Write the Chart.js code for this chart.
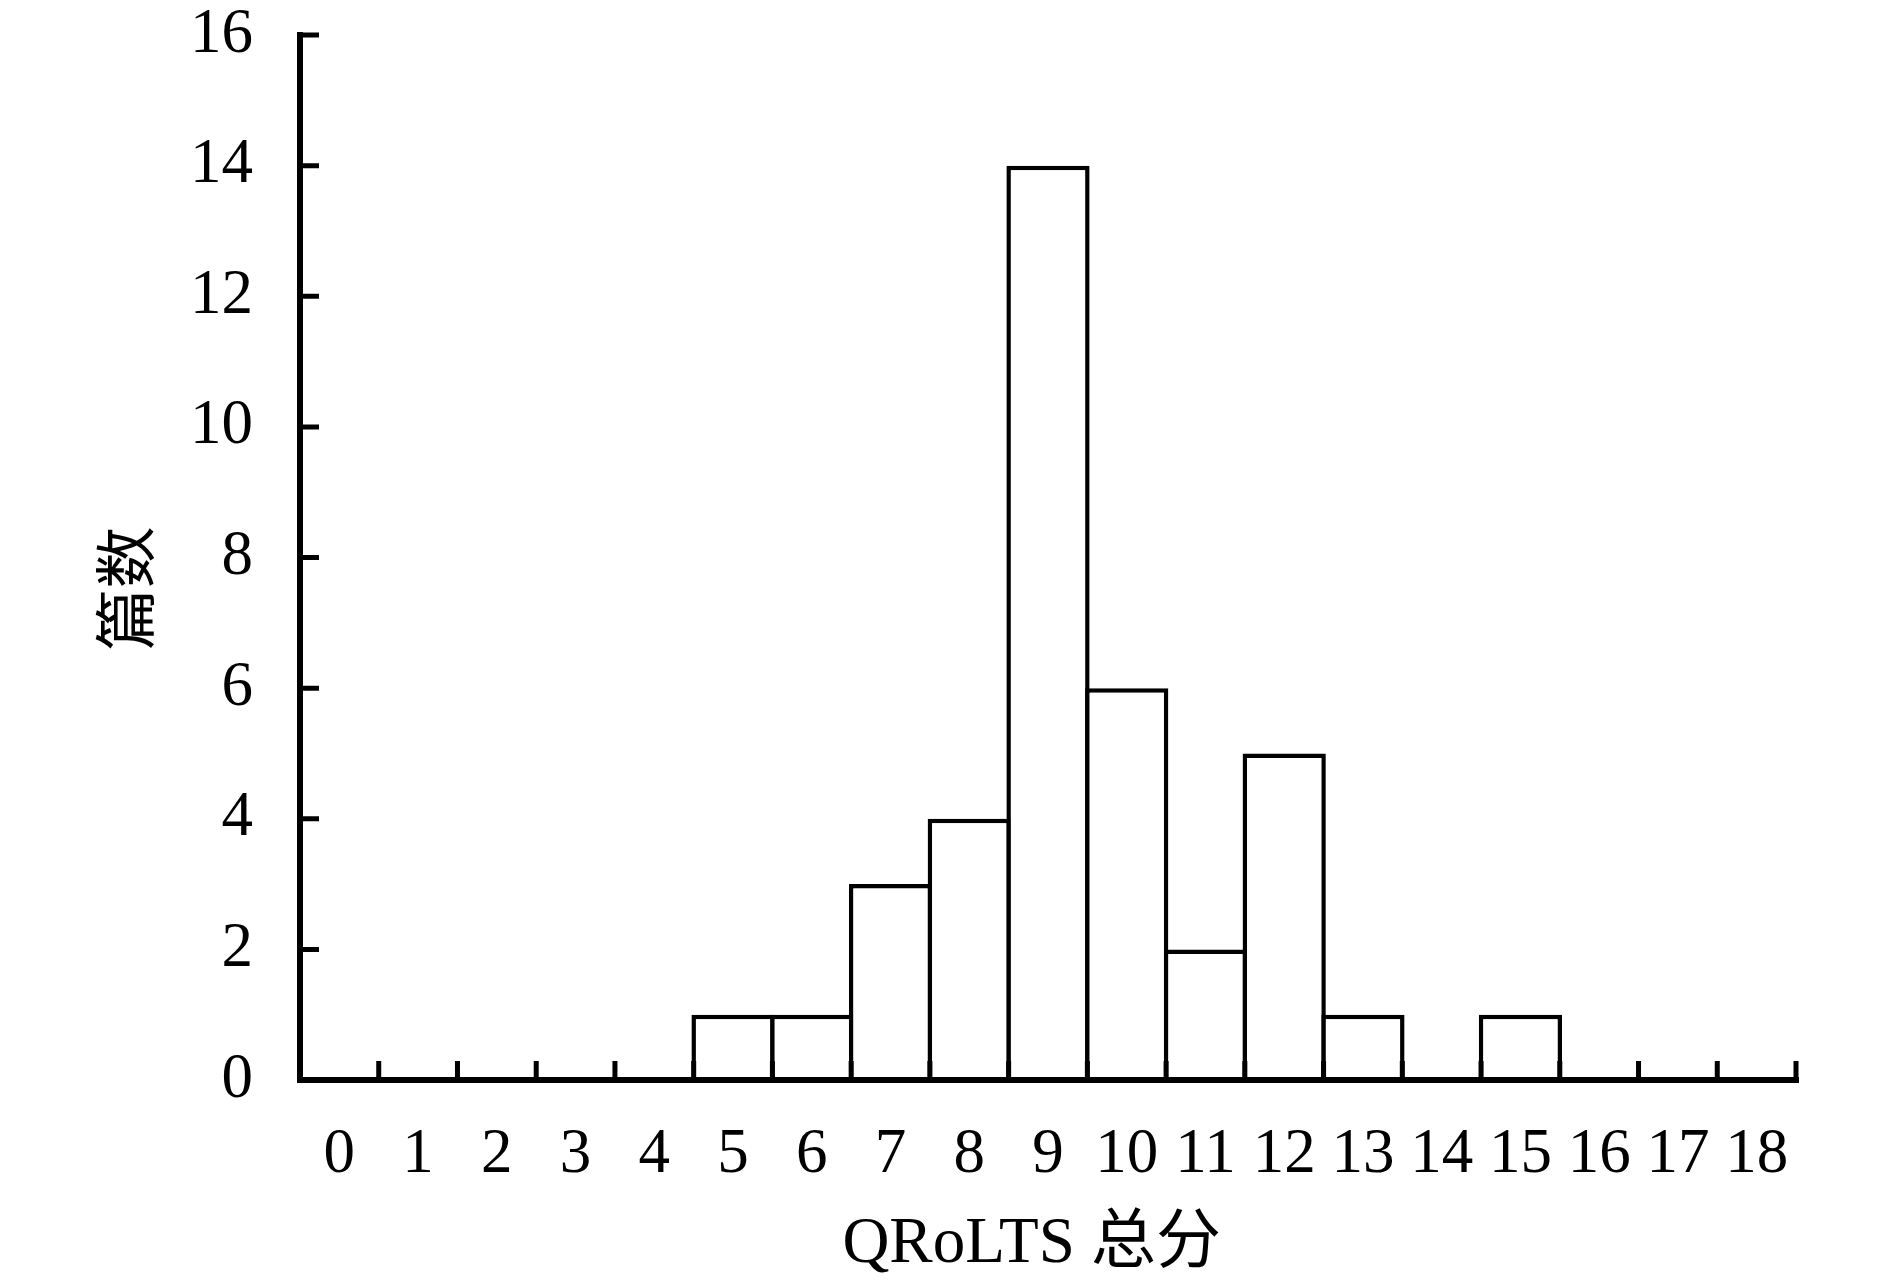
<!DOCTYPE html>
<html>
<head>
<meta charset="utf-8">
<script src="https://cdn.jsdelivr.net/npm/chart.js@4"></script>
<style>
  html, body { margin: 0; padding: 0; background: #ffffff; }
  #wrap { width: 1890px; height: 1287px; position: relative; }
</style>
</head>
<body>
<div id="wrap"><canvas id="c" width="1890" height="1287"></canvas></div>
<script>
// ---- data ----
const categories = ['0','1','2','3','4','5','6','7','8','9','10','11','12','13','14','15','16','17','18'];
const counts     = [0, 0, 0, 0, 0, 1, 1, 3, 4, 14, 6, 2, 5, 1, 0, 1, 0, 0, 0];
const yTickValues = [0, 2, 4, 6, 8, 10, 12, 14, 16];
const xTitle = 'QRoLTS 总分';
const yTitle = '篇数';

const FONT = '"Liberation Serif", "Times New Roman", "Noto Sans CJK SC", serif';
const BORDER = 4.5;

const axesPlugin = {
  id: 'innerAxes',
  afterDatasetsDraw(chart) {
    const { ctx, chartArea: { left, right, bottom }, scales: { x, y } } = chart;
    const yMax = yTickValues[yTickValues.length - 1];
    ctx.save();
    ctx.strokeStyle = '#000';
    ctx.lineCap = 'butt';
    // axis lines
    ctx.lineWidth = 6;
    ctx.beginPath();
    ctx.moveTo(left, y.getPixelForValue(yMax) - 3);
    ctx.lineTo(left, bottom + 3);
    ctx.moveTo(left - 3, bottom);
    ctx.lineTo(right + 3, bottom);
    ctx.stroke();
    // y ticks (inward)
    ctx.lineWidth = 5;
    ctx.beginPath();
    yTickValues.forEach(v => {
      const py = y.getPixelForValue(v);
      ctx.moveTo(left, py);
      ctx.lineTo(left + 19, py);
    });
    // x ticks at category boundaries (inward)
    const half = (x.getPixelForValue(1) - x.getPixelForValue(0)) / 2;
    for (let i = 0; i < categories.length; i++) {
      const px = x.getPixelForValue(i) + half;
      ctx.moveTo(px, bottom);
      ctx.lineTo(px, bottom - 19);
    }
    ctx.stroke();
    ctx.restore();
  }
};

new Chart(document.getElementById('c'), {
  type: 'bar',
  data: {
    labels: categories,
    datasets: [{
      data: counts,
      backgroundColor: '#ffffff',
      borderColor: '#000000',
      borderWidth: BORDER,
      borderSkipped: 'start',
      categoryPercentage: 1.0,
      barPercentage: 1.057
    }]
  },
  options: {
    responsive: false,
    animation: false,
    devicePixelRatio: 1,
    layout: { padding: { top: 35, right: 94, left: 0, bottom: 0 } },
    plugins: { legend: { display: false }, tooltip: { enabled: false } },
    scales: {
      x: {
        type: 'category',
        offset: true,
        grid: { display: false, drawTicks: false },
        border: { display: false },
        ticks: {
          color: '#000',
          padding: 38,
          maxRotation: 0,
          autoSkip: false,
          font: { family: FONT, size: 63 }
        },
        title: {
          display: true,
          text: xTitle + '\u2002',
          color: '#000',
          font: { family: FONT, size: 65 },
          padding: { top: 0, bottom: 3 }
        },
        afterFit(s) {
          s.height = 207;
          s.paddingLeft = 0; s.paddingRight = 0; s.paddingTop = 0; s.paddingBottom = 0;
        }
      },
      y: {
        min: 0,
        max: 16,
        grid: { display: false, drawTicks: false },
        border: { display: false },
        afterBuildTicks(s) { s.ticks = yTickValues.map(v => ({ value: v })); },
        ticks: {
          color: '#000',
          padding: 47,
          font: { family: FONT, size: 63, lineHeight: 1.0 }
        },
        title: {
          display: true,
          text: yTitle + '\u3000',
          color: '#000',
          font: { family: FONT, size: 62 },
          padding: { top: 96, bottom: 0 }
        },
        afterFit(s) {
          s.width = 300;
          s.paddingLeft = 0; s.paddingRight = 0; s.paddingTop = 0; s.paddingBottom = 0;
        }
      }
    }
  },
  plugins: [axesPlugin]
});
</script>
</body>
</html>
